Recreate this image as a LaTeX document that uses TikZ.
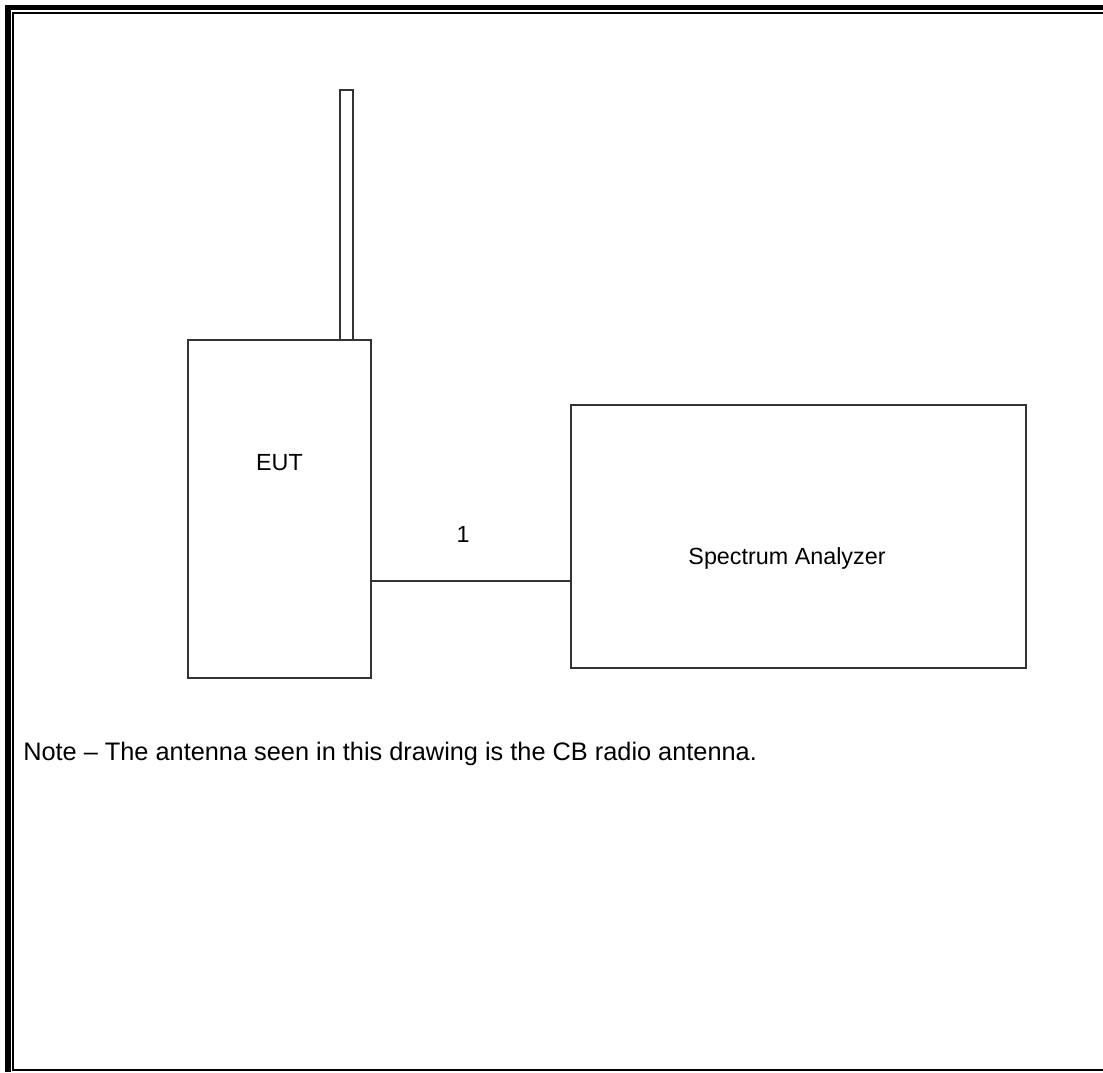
\documentclass[tikz,border=0pt]{standalone}
\usepackage{fontspec}
\setmainfont{Liberation Sans}
\usetikzlibrary{math}

\tikzset{
  unit/.style={draw=black!80, line width=1.3pt, inner sep=0pt, outer sep=0pt},
  label/.style={inner sep=0pt, font=\fontsize{17.5}{20}\selectfont},
}

\begin{document}
\begin{tikzpicture}[x=0.75pt, y=-0.75pt]
\tikzmath{
\W=1103;
\H=1072;
}
\useasboundingbox (0,0) rectangle (\W,\H);

% frame
\draw[line width=4.2pt] (8,\H) -- (8,7.5) -- (\W,7.5);
\draw[line width=1.5pt] (\W,13) -- (13,13) -- (13,1069.5) -- (\W,1069.5);

% equipment
\node[unit, minimum width=183*0.75pt, minimum height=338*0.75pt] (eut) at (279.5,509) {};
\node[unit, minimum width=13*0.75pt, minimum height=250*0.75pt, anchor=south] (ant) at (346.5,340) {};
\node[unit, minimum width=455*0.75pt, minimum height=263*0.75pt] (sa) at (798.5,536.5) {};

\node[label, anchor=base] (eutlbl) at (279.5,470) {EUT};
\node[label, anchor=base] (salbl) at (787,564) {Spectrum Analyzer};

% cable
\coordinate (port) at (eut.east |- 0,581);
\draw[draw=black!80, line width=1.3pt] (port) -- (port -| sa.west) node[label, midway, above=38*0.75pt, xshift=-6pt] (cable) {1};

\node[label, anchor=base west, font=\fontsize{19}{22}\selectfont] (note) at (23,760)
  {Note -- The antenna seen in this drawing is the CB radio antenna.};
\end{tikzpicture}
\end{document}
